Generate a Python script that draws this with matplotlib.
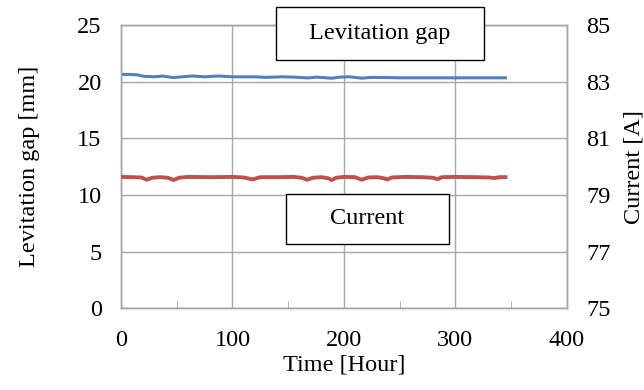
import matplotlib.pyplot as plt
from matplotlib.patches import Rectangle
from matplotlib.ticker import MultipleLocator

plt.rcParams['font.family'] = ['Liberation Serif', 'DejaVu Serif']
plt.rcParams['font.size'] = 17.5

# levitation gap [mm]
time_gap = [0, 8, 15, 20, 30, 37, 47, 55, 64, 75, 87, 100, 120, 130, 145, 155,
            168, 175, 182, 189, 196, 205, 216, 225, 240, 250, 300, 345]
gap = [20.66, 20.66, 20.62, 20.5, 20.45, 20.52, 20.38, 20.45, 20.52, 20.45, 20.52,
       20.45, 20.45, 20.4, 20.45, 20.42, 20.35, 20.42, 20.38, 20.32, 20.42, 20.45,
       20.33, 20.4, 20.38, 20.36, 20.36, 20.36]

# coil current [A]
time_cur = [0, 10, 18, 23, 28, 35, 42, 47, 52, 60, 80, 100, 110, 118, 125, 140, 155,
            162, 167, 172, 180, 186, 189, 193, 200, 210, 216, 222, 230, 236, 239, 243,
            255, 270, 280, 284, 288, 300, 320, 330, 335, 340, 345]
current = [79.64, 79.63, 79.62, 79.54, 79.61, 79.63, 79.61, 79.53, 79.61, 79.64, 79.63,
           79.64, 79.62, 79.55, 79.63, 79.63, 79.64, 79.61, 79.54, 79.61, 79.63, 79.59,
           79.53, 79.61, 79.64, 79.63, 79.54, 79.62, 79.63, 79.59, 79.55, 79.62, 79.64,
           79.63, 79.61, 79.56, 79.63, 79.64, 79.63, 79.62, 79.6, 79.63, 79.63]

left_ticks = [0, 5, 10, 15, 20, 25]
right_ticks = [75, 77, 79, 81, 83, 85]

grey = '#a6a6a6'

fig = plt.figure(figsize=(6.44, 3.9), dpi=100)
ax = fig.add_axes([0.188, 0.21, 0.692, 0.725])
ax2 = ax.twinx()

ax.plot(time_gap, gap, color='#4f81bd', lw=2.2, zorder=3)
ax2.plot(time_cur, current, color='#c0504d', lw=2.8, zorder=3)

ax.set_xlim(0, 400)
ax.set_ylim(0, 25)
ax2.set_ylim(75, 85)
ax.xaxis.set_major_locator(MultipleLocator(100))
ax.xaxis.set_minor_locator(MultipleLocator(50))
ax.set_yticks(left_ticks)
ax2.set_yticks(right_ticks)

ax.grid(True, which='major', color=grey, lw=1)
ax.set_axisbelow(True)
for a in (ax, ax2):
    for s in a.spines.values():
        s.set_color(grey)
        s.set_linewidth(1)
ax.tick_params(axis='x', which='major', length=0, pad=16)
ax.tick_params(axis='y', which='major', length=0, pad=14)
ax.tick_params(axis='x', which='minor', direction='in', length=5, color=grey)
ax2.tick_params(axis='y', length=0, pad=14)

ax.set_xlabel('Time [Hour]', labelpad=2)
ax.set_ylabel('Levitation gap [mm]', labelpad=27)
ax2.set_ylabel('Current [A]', labelpad=9)

# label boxes drawn in figure pixels
W, H = 644, 390
def label_box(x0, y0, x1, y1, text):
    fig.patches.append(Rectangle((x0 / W, 1 - y1 / H), (x1 - x0) / W, (y1 - y0) / H,
                                 transform=fig.transFigure, fill=True, fc='white',
                                 ec='black', lw=1, zorder=5))
    fig.text((x0 + x1) / 2 / W, 1 - (y0 + y1) / 2 / H, text, ha='center',
             va='center', zorder=6)

label_box(276, 7, 484, 60, 'Levitation gap')
label_box(286, 194, 449, 244, 'Current')

fig.savefig('out.png', dpi=100)
